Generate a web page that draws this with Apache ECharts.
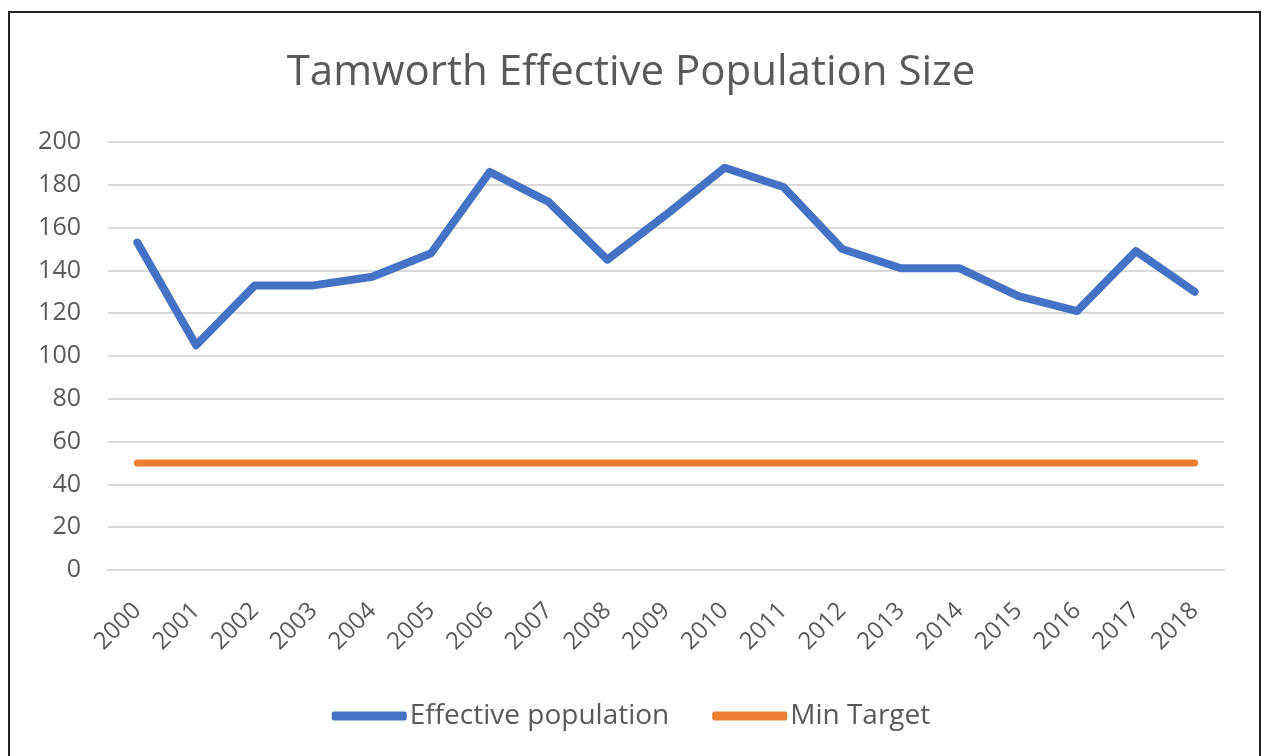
<!DOCTYPE html>
<html>
<head>
<meta charset="utf-8">
<script src="https://cdn.jsdelivr.net/npm/echarts@6/dist/echarts.min.js"></script>
<style>
  html, body { margin: 0; padding: 0; background: #fff; }
  #chart { width: 1262px; height: 756px; }
</style>
</head>
<body>
<div id="chart"></div>
<script>
var years = ["2000", "2001", "2002", "2003", "2004", "2005", "2006", "2007", "2008", "2009",
  "2010", "2011", "2012", "2013", "2014", "2015", "2016", "2017", "2018"];
var effective = [153, 105, 133, 133, 137, 148, 186, 172, 145, 166,
  188, 179, 150, 141, 141, 128, 121, 149, 130];
var minTarget = [50, 50, 50, 50, 50, 50, 50, 50, 50, 50,
  50, 50, 50, 50, 50, 50, 50, 50, 50];

var font = "'Open Sans', 'Noto Sans', sans-serif";
var grey = "#595959";

var chart = echarts.init(document.getElementById("chart"));

var option = {
  animation: false,
  backgroundColor: "#ffffff",
  textStyle: { fontFamily: font },
  title: {
    text: "Tamworth Effective Population Size",
    left: "center",
    top: 47,
    textStyle: {
      color: grey,
      fontSize: 42,
      fontWeight: "normal",
      fontFamily: font
    }
  },
  // frame round the chart area
  graphic: [
    {
      type: "rect",
      shape: { x: 9, y: 12, width: 1251, height: 770 },
      style: { fill: "none", stroke: "#222", lineWidth: 2 },
      silent: true
    }
  ],
  legend: {
    bottom: 21,
    left: "center",
    itemWidth: 75,
    itemHeight: 9,
    itemGap: 43,
    icon: "roundRect",
    textStyle: {
      color: grey,
      fontSize: 28,
      fontFamily: font,
      padding: [0, 0, 0, -2]
    },
    data: ["Effective population", "Min Target"]
  },
  grid: {
    left: 108,
    right: 38,
    top: 142,
    bottom: 186
  },
  xAxis: {
    type: "category",
    data: years,
    boundaryGap: true,
    axisLine: { lineStyle: { color: "#d9d9d9", width: 2 } },
    axisTick: { show: false },
    axisLabel: {
      rotate: 45,
      margin: 37,
      color: grey,
      fontSize: 24,
      fontFamily: font,
      interval: 0
    }
  },
  yAxis: {
    type: "value",
    min: 0,
    max: 200,
    interval: 20,
    axisLine: { show: false },
    axisTick: { show: false },
    splitLine: { lineStyle: { color: "#d9d9d9", width: 2 } },
    axisLabel: {
      margin: 27,
      color: grey,
      fontSize: 25,
      fontFamily: font
    }
  },
  series: [
    {
      name: "Effective population",
      type: "line",
      data: effective,
      symbol: "none",
      color: "#4472C4",
      lineStyle: { width: 8, color: "#4472C4", cap: "round", join: "round" },
      z: 3
    },
    {
      name: "Min Target",
      type: "line",
      data: minTarget,
      symbol: "none",
      color: "#ED7D31",
      lineStyle: { width: 7, color: "#ED7D31", cap: "round", join: "round" },
      z: 2
    }
  ]
};

chart.setOption(option);
</script>
</body>
</html>
